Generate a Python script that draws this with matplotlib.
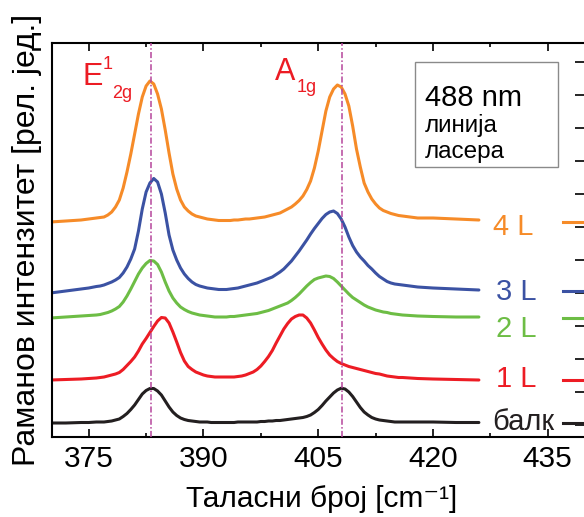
import numpy as np
import matplotlib
matplotlib.use('Agg')
import matplotlib.pyplot as plt
from matplotlib.patches import Rectangle

plt.rcParams['font.family'] = ['Liberation Sans', 'DejaVu Sans']

# таласни број [cm-1]: ређе тачке на крајевима, на сваких 0.5 cm-1 око пикова
shift = np.concatenate([[370, 372, 374, 375],
                        np.arange(376, 416.01, 0.5),
                        [417, 418, 420, 423, 426, 437, 440]])

# интензитет (рел. јед., са померајем)
int_4L = [21.5, 21.6, 21.7, 21.8,
          21.9, 21.95, 22.0, 22.2, 22.5, 23.0, 23.7, 24.9, 26.5, 28.3,
          30.3, 32.3, 34.0, 35.1, 35.6, 35.3, 34.3, 32.8, 30.7, 28.4,
          26.3, 24.8, 23.7, 23.0, 22.6, 22.3, 22.1, 22.0, 21.9, 21.8,
          21.75, 21.7, 21.65, 21.65, 21.65, 21.65, 21.7, 21.7, 21.75, 21.8,
          21.8, 21.85, 21.9, 21.95, 22.0, 22.1, 22.2, 22.3, 22.4, 22.6,
          22.8, 23.0, 23.3, 23.65, 24.1, 24.75, 25.6, 26.9, 28.6, 30.6,
          32.6, 34.0, 34.8, 35.2, 35.0, 34.3, 33.1, 31.1, 28.8, 27.0,
          25.4, 24.5, 23.8, 23.3, 22.9, 22.65, 22.5, 22.35, 22.25, 22.15,
          22.1,
          22.0, 21.9, 21.9, 21.8, 21.7, 21.5, 21.5]
int_3L = [14.4, 14.6, 14.8, 14.9,
          15.05, 15.1, 15.2, 15.35, 15.5, 15.7, 15.95, 16.4, 17.0, 17.8,
          18.8, 20.6, 22.8, 24.5, 25.4, 25.85, 25.5, 24.3, 22.4, 20.2,
          18.7, 17.7, 16.9, 16.3, 15.85, 15.5, 15.25, 15.1, 15.0, 14.9,
          14.85, 14.8, 14.75, 14.75, 14.75, 14.8, 14.85, 14.9, 15.0, 15.1,
          15.2, 15.3, 15.4, 15.55, 15.7, 15.85, 16.0, 16.25, 16.5, 16.8,
          17.2, 17.6, 18.1, 18.6, 19.15, 19.7, 20.3, 20.85, 21.35, 21.85,
          22.25, 22.5, 22.6, 22.35, 21.8, 21.0, 20.0, 19.15, 18.5, 18.0,
          17.6, 17.15, 16.8, 16.4, 16.05, 15.8, 15.55, 15.4, 15.3, 15.25,
          15.2,
          15.1, 15.0, 14.9, 14.8, 14.7, 14.6, 14.6]
int_2L = [11.9, 12.0, 12.1, 12.15,
          12.2, 12.25, 12.35, 12.45, 12.6, 12.8, 13.05, 13.5, 14.1, 14.8,
          15.55, 16.3, 16.9, 17.35, 17.65, 17.6, 17.25, 16.5, 15.5, 14.6,
          13.9, 13.4, 13.0, 12.75, 12.55, 12.4, 12.3, 12.2, 12.15, 12.1,
          12.05, 12.0, 12.0, 12.0, 12.0, 12.05, 12.05, 12.1, 12.15, 12.2,
          12.25, 12.3, 12.35, 12.45, 12.55, 12.65, 12.8, 12.95, 13.1, 13.25,
          13.4, 13.65, 13.95, 14.3, 14.7, 15.1, 15.45, 15.75, 15.9, 16.0,
          16.1, 16.05, 15.85, 15.5, 15.1, 14.7, 14.3, 13.95, 13.7, 13.45,
          13.2, 13.0, 12.85, 12.7, 12.6, 12.5, 12.45, 12.35, 12.3, 12.25,
          12.2,
          12.15, 12.1, 12.05, 12.0, 12.0, 11.9, 11.9]
int_1L = [5.7, 5.75, 5.8, 5.85,
          5.9, 5.95, 6.0, 6.1, 6.2, 6.3, 6.45, 6.75, 7.15, 7.55,
          8.0, 8.6, 9.3, 9.85, 10.45, 11.05, 11.6, 11.95, 11.9, 11.4,
          10.5, 9.5, 8.45, 7.6, 7.05, 6.75, 6.5, 6.35, 6.2, 6.1,
          6.05, 6.0, 6.0, 6.0, 6.0, 6.0, 6.0, 6.05, 6.1, 6.2,
          6.35, 6.5, 6.75, 7.1, 7.55, 8.05, 8.65, 9.4, 10.1, 10.8,
          11.35, 11.8, 12.05, 12.2, 12.2, 11.9, 11.4, 10.7, 9.95, 9.3,
          8.7, 8.2, 7.85, 7.55, 7.35, 7.2, 7.05, 6.95, 6.85, 6.75,
          6.65, 6.55, 6.45, 6.35, 6.3, 6.2, 6.1, 6.05, 6.0, 5.95,
          5.95,
          5.9, 5.85, 5.8, 5.75, 5.7, 5.7, 5.7]
int_bulk = [1.4, 1.4, 1.45, 1.45,
            1.5, 1.5, 1.5, 1.55, 1.6, 1.7, 1.8, 2.05, 2.35, 2.75,
            3.2, 3.75, 4.3, 4.65, 4.85, 4.85, 4.6, 4.2, 3.6, 3.0,
            2.5, 2.15, 1.9, 1.75, 1.65, 1.6, 1.55, 1.5, 1.5, 1.5,
            1.45, 1.45, 1.45, 1.45, 1.45, 1.45, 1.45, 1.5, 1.5, 1.5,
            1.5, 1.5, 1.5, 1.55, 1.55, 1.6, 1.6, 1.65, 1.65, 1.7,
            1.75, 1.8, 1.85, 1.9, 1.95, 2.05, 2.2, 2.45, 2.75, 3.15,
            3.6, 4.0, 4.4, 4.7, 4.88, 4.8, 4.5, 4.05, 3.5, 2.95,
            2.5, 2.2, 1.95, 1.8, 1.7, 1.65, 1.6, 1.55, 1.5, 1.5,
            1.5,
            1.5, 1.5, 1.5, 1.45, 1.45, 1.4, 1.4]

spectra = [int_4L, int_3L, int_2L, int_1L, int_bulk]
labels = ['4 L', '3 L', '2 L', '1 L', 'балк']
colors = ['#f68b28', '#3b52a3', '#6dbd45', '#ed1c24', '#231f20']
label_pos = [(427.8, 20.2), (428.3, 13.7), (428.3, 10.0), (428.3, 5.0), (427.7, 0.7)]

# положаји модова E12g и A1g
mode_pos = [383.1, 408.1]

fig = plt.figure(figsize=(5.84, 5.17), dpi=100)
ax = fig.add_axes([52 / 584, 80 / 517, 534 / 584, 394 / 517])

left = shift <= 426.4
right = shift >= 437
for y, c, lab, (tx, ty) in zip(spectra, colors, labels, label_pos):
    y = np.array(y)
    ax.plot(shift[left], y[left], color=c, lw=2.2, solid_joinstyle='round', solid_capstyle='round')
    ax.plot(shift[right], y[right], color=c, lw=2.2)
    ax.text(tx, ty, lab, color=c, fontsize=21, ha='left', va='baseline')

for xm in mode_pos:
    ax.axvline(xm, color='#b5459b', lw=1.1, linestyle=(0, (4, 1.5, 1, 1.5)), zorder=3)

# ознаке модова
red = '#ec1c24'
ax.text(374.2, 35.2, 'E', color=red, fontsize=22, ha='left', va='baseline')
ax.text(376.8, 36.8, '1', color=red, fontsize=13, ha='left', va='baseline')
ax.text(378.0, 33.9, '2g', color=red, fontsize=13, ha='left', va='baseline')
ax.text(399.3, 35.7, 'A', color=red, fontsize=22, ha='left', va='baseline')
ax.text(402.2, 34.5, '1g', color=red, fontsize=13, ha='left', va='baseline')

# оквир са ласерском линијом
ax.add_patch(Rectangle((417.6, 27.0), 18.8, 10.5, fill=False, edgecolor='#8a8a8a', lw=1.0))
ax.text(418.9, 33.1, '488 nm', fontsize=21, ha='left', va='baseline')
ax.text(418.9, 30.5, 'линија', fontsize=17.5, ha='left', va='baseline')
ax.text(418.9, 27.9, 'ласера', fontsize=17.5, ha='left', va='baseline')

ax.set_xlim(370.2, 440.0)
ax.set_ylim(0, 39.4)

ax.set_xticks([375, 390, 405, 420, 435])
ax.set_xticks([382.5, 397.5, 412.5, 427.5], minor=True)
ax.tick_params(axis='x', which='both', direction='in', top=True, bottom=True,
               labelsize=21.5, pad=6, width=1.2)
ax.tick_params(axis='x', which='major', length=6)
ax.tick_params(axis='x', which='minor', length=3)

ax.set_yticks(np.arange(1.2, 39.0, 3.3))
ax.tick_params(axis='y', direction='in', left=False, right=True, labelleft=False,
               labelright=False, length=8, width=1.2)

for sp in ax.spines.values():
    sp.set_linewidth(1.5)

fig.text(0.5505, 0.02, 'Таласни број [cm⁻¹]', fontsize=21.5, ha='center', va='baseline')
fig.text(0.046, 0.535, 'Раманов интензитет [рел. јед.]', fontsize=23, rotation=90,
         ha='center', va='center')

fig.savefig('out.png', dpi=100)
